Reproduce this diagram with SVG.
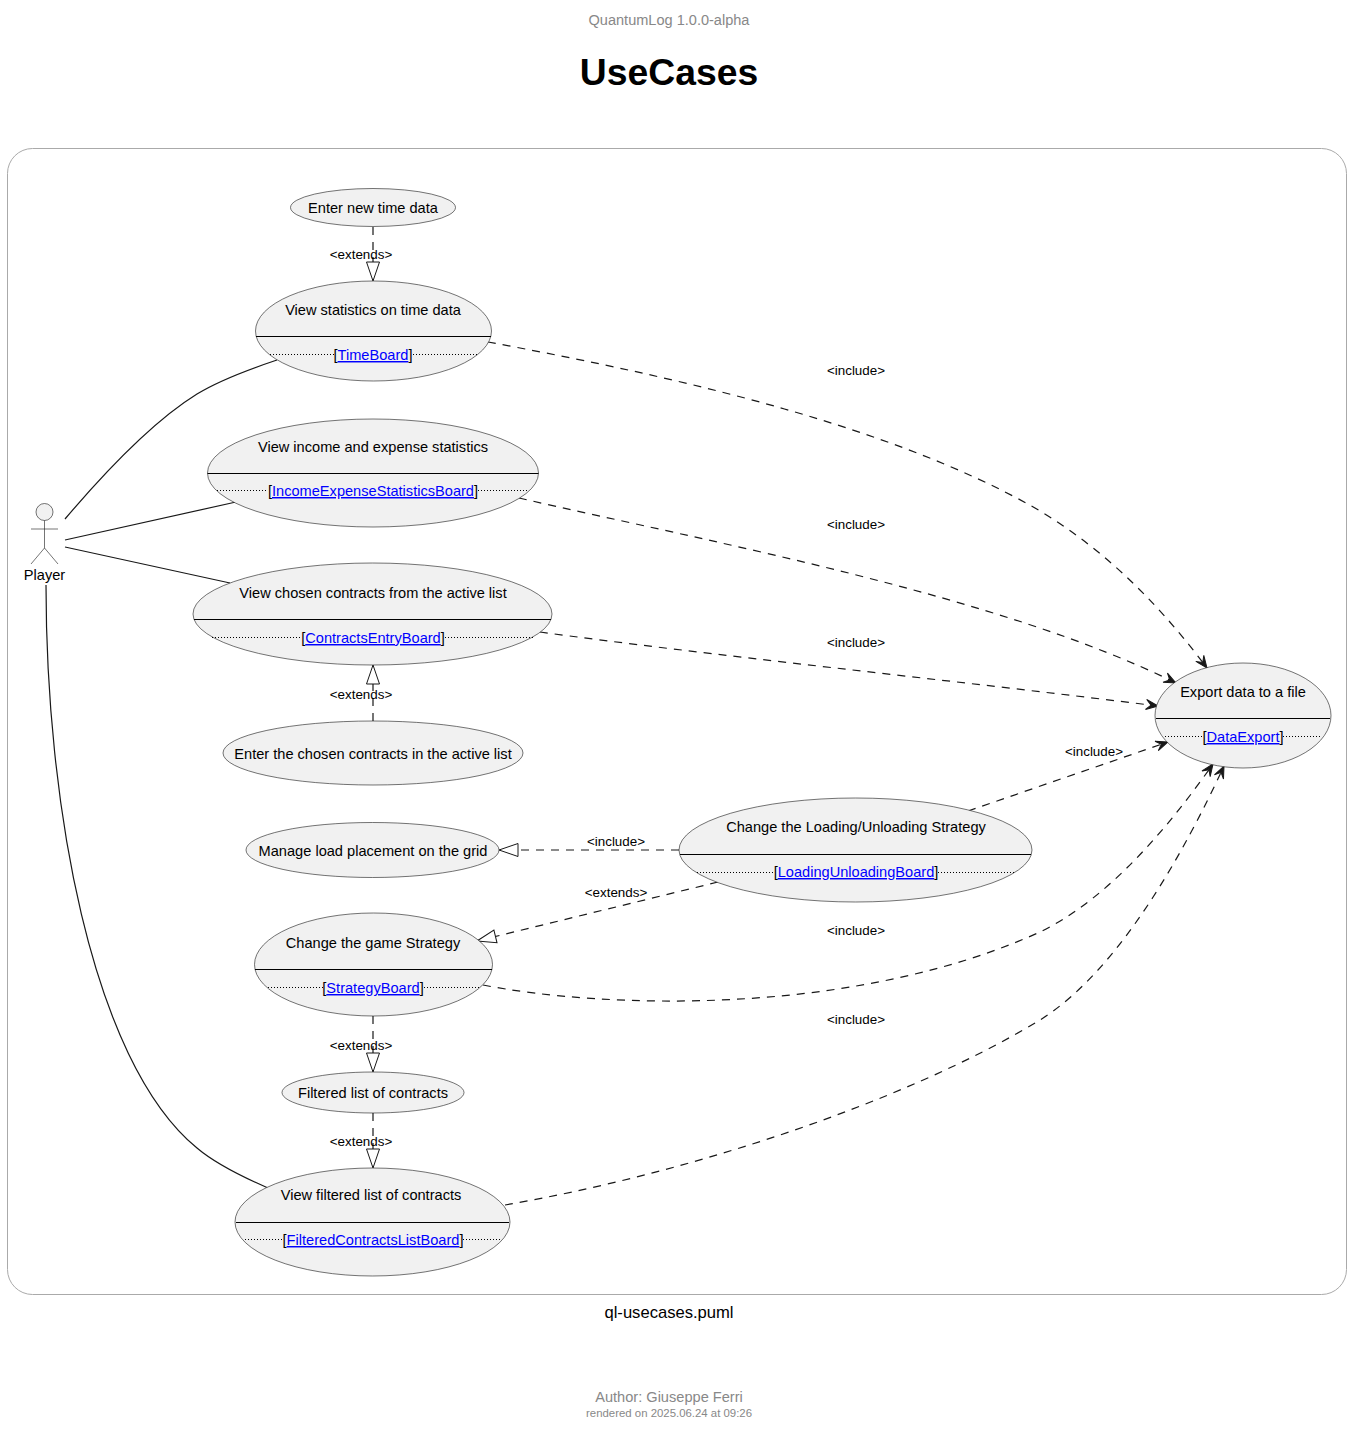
<svg xmlns="http://www.w3.org/2000/svg" width="1352" height="1436" viewBox="0 0 1352 1436">
<style>
text{font-family:"Liberation Sans",Arial,sans-serif;fill:#000}
.m{text-anchor:middle}
.n{font-size:14.6px}
.l{font-size:13.4px}
.g{fill:#888}
.u{fill:#F1F1F1;stroke:#181818;stroke-width:.6}
.s{stroke:#000;stroke-width:1;fill:none}
.d{stroke:#000;stroke-width:1;stroke-dasharray:1,2;fill:none}
.a{fill:#0000FF;text-decoration:underline}
.c{stroke:#181818;fill:none;stroke-width:1.2}
.t{stroke-dasharray:8,7}
</style>
<defs>
<marker id="open" viewBox="-13 -6 15 12" refX="0" refY="0" markerWidth="15" markerHeight="12" markerUnits="userSpaceOnUse" orient="auto"><path d="M0,0 L-12,-5 L-7,0 L-12,5 Z" fill="#181818" stroke="#181818" stroke-width="1"/></marker>
<marker id="tri" viewBox="-21 -8 22 16" refX="0" refY="0" markerWidth="22" markerHeight="16" markerUnits="userSpaceOnUse" orient="auto"><path d="M0,0 L-19,-6.5 L-19,6.5 Z" fill="#fff" stroke="#181818" stroke-width="1"/></marker>
</defs>
<rect width="1352" height="1436" fill="#fff"/>
<text class="m g" x="669" y="25" font-size="14.55">QuantumLog 1.0.0-alpha</text>
<text class="m" x="669" y="85" font-size="37.3" font-weight="bold">UseCases</text>
<rect x="7.5" y="148.5" width="1339" height="1146" rx="25" ry="25" fill="#fff" stroke="#aaa" stroke-width="1"/>
<text class="m" x="669" y="1318" font-size="16.6">ql-usecases.puml</text>
<text class="m g" x="669" y="1402" font-size="14.6">Author: Giuseppe Ferri</text>
<text class="m g" x="669" y="1417" font-size="11.4">rendered on 2025.06.24 at 09:26</text>

<g id="connectors">
<path class="c" d="M65,519 C110,466 155,420 197,394 C220,380 250,369 277,360"/>
<path class="c" d="M65,540 L236,502"/>
<path class="c" d="M65,547 L230,583"/>
<path class="c" d="M46,585 C46,800 90,1060 197,1148 C217,1165 245,1178 268,1188"/>
<path class="c t" d="M373,227 L373,281" marker-end="url(#tri)"/>
<path class="c t" d="M373,721 L373,665" marker-end="url(#tri)"/>
<path class="c t" d="M373,1016 L373,1072" marker-end="url(#tri)"/>
<path class="c t" d="M373,1113 L373,1168" marker-end="url(#tri)"/>
<path class="c t" d="M679,850 L499,850" marker-end="url(#tri)"/>
<path class="c t" d="M718,882 L477,941" marker-end="url(#tri)"/>
<path class="c t" d="M488,342 C650,372 880,420 1035,508 C1110,552 1165,612 1207,668" marker-end="url(#open)"/>
<path class="c t" d="M519,498 C720,544 1000,596 1176,683" marker-end="url(#open)"/>
<path class="c t" d="M540,632 C700,654 950,680 1158,706" marker-end="url(#open)"/>
<path class="c t" d="M968,811 L1168,742" marker-end="url(#open)"/>
<path class="c t" d="M483,985 C600,1008 850,1018 1040,932 C1110,898 1170,825 1213,764" marker-end="url(#open)"/>
<path class="c t" d="M505,1205 C680,1175 900,1105 1040,1020 C1120,970 1185,850 1224,766" marker-end="url(#open)"/>
<g>
<text class="m l" x="361" y="259">&lt;extends&gt;</text>
<text class="m l" x="361" y="699">&lt;extends&gt;</text>
<text class="m l" x="361" y="1050">&lt;extends&gt;</text>
<text class="m l" x="361" y="1146">&lt;extends&gt;</text>
<text class="m l" x="616" y="846">&lt;include&gt;</text>
<text class="m l" x="616" y="897">&lt;extends&gt;</text>
<text class="m l" x="856" y="375">&lt;include&gt;</text>
<text class="m l" x="856" y="529">&lt;include&gt;</text>
<text class="m l" x="856" y="647">&lt;include&gt;</text>
<text class="m l" x="1094" y="756">&lt;include&gt;</text>
<text class="m l" x="856" y="935">&lt;include&gt;</text>
<text class="m l" x="856" y="1024">&lt;include&gt;</text>
</g>
</g>

<g id="player">
<circle class="u" cx="44.5" cy="512" r="8.5"/>
<path d="M44.5,520.5 V548 M31,529 H58 M44.5,548 L31,564 M44.5,548 L58,564" stroke="#181818" stroke-width=".6" fill="none"/>
<text class="m n" x="44.5" y="580">Player</text>
</g>

<g id="uc-enter-time">
<ellipse class="u" cx="373" cy="207.5" rx="82.5" ry="19"/>
<text class="m n" x="373" y="213">Enter new time data</text>
</g>

<g id="uc-time">
<ellipse class="u" cx="373.5" cy="331" rx="118" ry="50"/>
<line class="s" x1="256" y1="336.5" x2="491" y2="336.5"/>
<line class="d" x1="270" y1="354.5" x2="334" y2="354.5"/><line class="d" x1="413" y1="354.5" x2="477" y2="354.5"/>
<text class="m n" x="373" y="315">View statistics on time data</text>
<text class="m n" x="373" y="360">[<tspan class="a">TimeBoard</tspan>]</text>
</g>

<g id="uc-income">
<ellipse class="u" cx="373" cy="473" rx="165.5" ry="54"/>
<line class="s" x1="207.5" y1="473.5" x2="538.5" y2="473.5"/>
<line class="d" x1="217" y1="490.5" x2="268" y2="490.5"/><line class="d" x1="478" y1="490.5" x2="529" y2="490.5"/>
<text class="m n" x="373" y="452">View income and expense statistics</text>
<text class="m n" x="373" y="496">[<tspan class="a">IncomeExpenseStatisticsBoard</tspan>]</text>
</g>

<g id="uc-contracts">
<ellipse class="u" cx="372.5" cy="614" rx="179.5" ry="51"/>
<line class="s" x1="194" y1="619.5" x2="551" y2="619.5"/>
<line class="d" x1="212" y1="637.5" x2="301" y2="637.5"/><line class="d" x1="445" y1="637.5" x2="534" y2="637.5"/>
<text class="m n" x="373" y="598">View chosen contracts from the active list</text>
<text class="m n" x="373" y="643">[<tspan class="a">ContractsEntryBoard</tspan>]</text>
</g>

<g id="uc-enter-contracts">
<ellipse class="u" cx="373" cy="753" rx="150" ry="32"/>
<text class="m n" x="373" y="759">Enter the chosen contracts in the active list</text>
</g>

<g id="uc-manage">
<ellipse class="u" cx="372.5" cy="850" rx="126.5" ry="27.5"/>
<text class="m n" x="373" y="856">Manage load placement on the grid</text>
</g>

<g id="uc-loading">
<ellipse class="u" cx="855.5" cy="850" rx="176.5" ry="52"/>
<line class="s" x1="680" y1="854.5" x2="1031" y2="854.5"/>
<line class="d" x1="697" y1="872.5" x2="773" y2="872.5"/><line class="d" x1="938" y1="872.5" x2="1014" y2="872.5"/>
<text class="m n" x="856" y="832">Change the Loading/Unloading Strategy</text>
<text class="m n" x="856" y="877">[<tspan class="a">LoadingUnloadingBoard</tspan>]</text>
</g>

<g id="uc-strategy">
<ellipse class="u" cx="373.5" cy="964.5" rx="119" ry="51.5"/>
<line class="s" x1="255" y1="969.5" x2="492" y2="969.5"/>
<line class="d" x1="268" y1="987.5" x2="323" y2="987.5"/><line class="d" x1="424" y1="987.5" x2="479" y2="987.5"/>
<text class="m n" x="373" y="948">Change the game Strategy</text>
<text class="m n" x="373" y="993">[<tspan class="a">StrategyBoard</tspan>]</text>
</g>

<g id="uc-filtered">
<ellipse class="u" cx="373" cy="1092.5" rx="91" ry="20.5"/>
<text class="m n" x="373" y="1098">Filtered list of contracts</text>
</g>

<g id="uc-view-filtered">
<ellipse class="u" cx="372.5" cy="1222" rx="137.5" ry="54"/>
<line class="s" x1="236" y1="1222.5" x2="509" y2="1222.5"/>
<line class="d" x1="245" y1="1239.5" x2="283" y2="1239.5"/><line class="d" x1="463" y1="1239.5" x2="501" y2="1239.5"/>
<text class="m n" x="371" y="1200">View filtered list of contracts</text>
<text class="m n" x="373" y="1245">[<tspan class="a">FilteredContractsListBoard</tspan>]</text>
</g>

<g id="uc-export">
<ellipse class="u" cx="1243" cy="715.5" rx="88" ry="52.5"/>
<line class="s" x1="1156" y1="718.5" x2="1330" y2="718.5"/>
<line class="d" x1="1165" y1="736.5" x2="1203" y2="736.5"/><line class="d" x1="1283" y1="736.5" x2="1322" y2="736.5"/>
<text class="m n" x="1243" y="697">Export data to a file</text>
<text class="m n" x="1243" y="742">[<tspan class="a">DataExport</tspan>]</text>
</g>
</svg>
